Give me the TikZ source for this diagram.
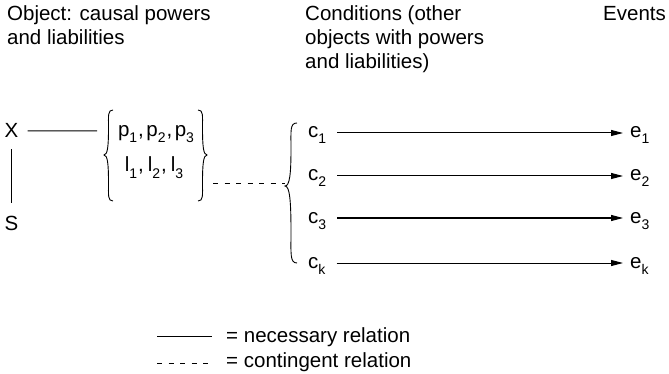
\documentclass[tikz,border=0pt]{standalone}
\usepackage{fontspec}
\setmainfont{Liberation Sans}
\usetikzlibrary{arrows.meta}
\newcommand\lsub[1]{\raisebox{-6pt}{\fontsize{14}{14}\selectfont #1}}
% curly brace: #1 x of ends, #2 top y, #3 tip y, #4 bottom y, #5 signed width (tip at #1-#5)
\newcommand\curlybrace[5]{%
  \pgfmathsetmacro\cbX{#1}\pgfmathsetmacro\cbT{#2}\pgfmathsetmacro\cbM{#3}%
  \pgfmathsetmacro\cbB{#4}\pgfmathsetmacro\cbW{#5}%
  \pgfmathsetmacro\cbH{\cbM-\cbT}\pgfmathsetmacro\cbG{\cbB-\cbM}%
  \draw[brcline] (\cbX,\cbT) .. controls ({\cbX-0.6*\cbW},\cbT) and ({\cbX-0.5*\cbW},{\cbT+0.12*\cbH}) .. ({\cbX-0.5*\cbW},{\cbT+0.4*\cbH})
    .. controls ({\cbX-0.5*\cbW},{\cbT+0.8*\cbH}) and ({\cbX-0.6*\cbW},\cbM) .. ({\cbX-\cbW},\cbM)
    .. controls ({\cbX-0.6*\cbW},\cbM) and ({\cbX-0.5*\cbW},{\cbM+0.2*\cbG}) .. ({\cbX-0.5*\cbW},{\cbM+0.6*\cbG})
    .. controls ({\cbX-0.5*\cbW},{\cbM+0.88*\cbG}) and ({\cbX-0.6*\cbW},\cbB) .. (\cbX,\cbB);}
\begin{document}
\begin{tikzpicture}[x=1pt,y=-1pt,
  lbl/.style={inner sep=0pt, anchor=base west, font=\fontsize{20.5}{24}\selectfont},
  rowlbl/.style={lbl, text height=10pt, text depth=0pt},
  rel/.style={line width=1pt},
  contrel/.style={line width=1pt, dash pattern=on 5pt off 6.5pt},
  brcline/.style={line width=0.9pt},
  flow/.style={line width=1pt, -{Triangle[length=12pt,width=6pt]}, shorten <=11pt, shorten >=7pt}]
\useasboundingbox (0,0) rectangle (669,374);
% headings
\node[lbl] (obj1) at (7,21) {Object: causal powers};
\node[lbl] (obj2) at (7,45) {and liabilities};
\node[lbl] (cond1) at (305,21) {Conditions (other};
\node[lbl] (cond2) at (305,45) {objects with powers};
\node[lbl] (cond3) at (305,69) {and liabilities)};
\node[lbl] (ev) at (603,21) {Events};
% object
\node[lbl] (X) at (4.5,138) {X};
\node[lbl] (S) at (4.5,230) {S};
\coordinate (xend) at (97,131);
\draw[rel] ([xshift=9pt]X.east) -- (xend);
\draw[rel] ([yshift=-11pt]X.south) -- ([yshift=12pt]S.north);
% powers and liabilities
\node[lbl, anchor=base] (prow) at (156,137) {p\lsub{1}\hspace{1pt},\hspace{2.5pt}p\lsub{2}\hspace{1pt},\hspace{2.5pt}p\lsub{3}};
\node[lbl, anchor=base] (lrow) at (154,172) {l\lsub{1}\hspace{1pt},\hspace{4pt}l\lsub{2}\hspace{1pt},\hspace{4pt}l\lsub{3}};
\curlybrace{113}{110}{155}{201}{9}
\curlybrace{198}{110}{155}{201}{-9}
% contingent link to conditions
\coordinate (dashA) at (213,184);
\coordinate (bbtip) at (285,184);
\draw[contrel] (dashA) -- (bbtip);
\curlybrace{297}{123}{186}{263}{12}
% conditions and events
\foreach \i/\s/\a in {1/1/133, 2/2/176, 3/3/218, k/k/263} {
  \node[rowlbl] (c\i) at (308,\a+5) {c\lsub{\s}};
  \node[rowlbl] (e\i) at (630,\a+5) {e\lsub{\s}};
  \draw[flow] (c\i.east) -- (e\i.west);
}
% legend
\coordinate (la) at (157,336);
\coordinate (lb) at (212,336);
\coordinate (lc) at (157,363);
\coordinate (ld) at (212,363);
\draw[rel] (la) -- (lb);
\draw[contrel] (lc) -- (ld);
\node[lbl] (nec) at (226,342) {= necessary relation};
\node[lbl] (con) at (226,367) {= contingent relation};
\end{tikzpicture}
\end{document}
